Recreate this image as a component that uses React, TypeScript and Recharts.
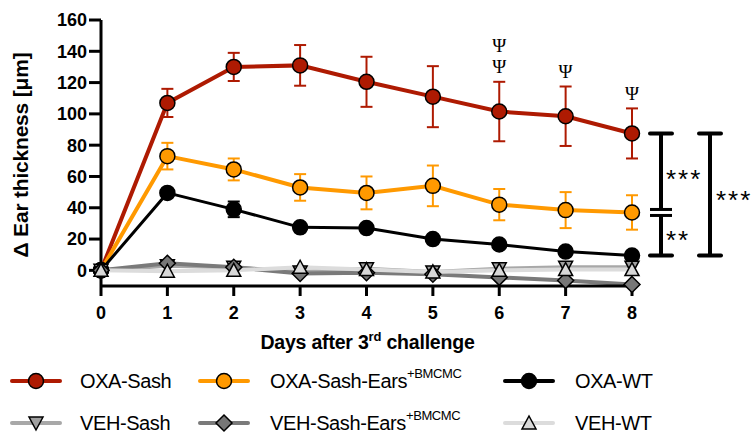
import React from "react";
import {
  LineChart,
  Line,
  XAxis,
  YAxis,
  ErrorBar,
  ReferenceDot,
  ReferenceLine
} from "recharts";

// days after 3rd challenge
const days = [0, 1, 2, 3, 4, 5, 6, 7, 8];

// mean ear thickness change (um) and SEM
const oxaSash = [0, 107, 130, 131, 120.5, 111, 101.5, 98.5, 87.5];
const oxaSashErr = [0, 9, 9, 13, 16, 19.5, 19, 19, 16];
const oxaEars = [0, 73, 64.5, 53, 49.5, 54, 42, 38.5, 37];
const oxaEarsErr = [0, 8.5, 7, 8.5, 10.5, 13, 10, 11.5, 11];
const oxaWT = [0, 49.5, 39, 27.5, 27, 20, 16.5, 12, 9.5];
const oxaWTErr = [0, 2, 5, 2, 2, 2, 2, 2, 2];
const vehSash = [0, 3, 2, -1, 1, -1, 1, 2, 2];
const vehEars = [0, 4.5, 2, -2, -1.5, -2.5, -4.5, -6.5, -9];
const vehWT = [0, -0.5, 0, 2, 0.5, -1, 0, 0.5, 0.5];

// number of Psi marks above the OXA-Sash error bar per day
const psiCount = [0, 0, 0, 0, 0, 0, 2, 1, 1];

const yTicks = [0, 20, 40, 60, 80, 100, 120, 140, 160];

const RED = "#AE1A02";
const ORANGE = "#FF9900";

const data = days.map((d, i) => ({
  day: d,
  oxaSash: oxaSash[i],
  oxaSashErr: oxaSashErr[i],
  oxaEars: oxaEars[i],
  oxaEarsErr: oxaEarsErr[i],
  oxaWT: oxaWT[i],
  oxaWTErr: oxaWTErr[i],
  vehSash: vehSash[i],
  vehEars: vehEars[i],
  vehWT: vehWT[i]
}));

type Shape = "circle" | "down" | "up" | "diamond";

const marker = (shape: Shape, fill: string, cx: number, cy: number, key?: string) => {
  if (shape === "circle") {
    return <circle key={key} cx={cx} cy={cy} r={7.5} fill={fill} stroke="#000" strokeWidth={1.5} />;
  }
  let pts = "";
  if (shape === "down") pts = `${cx - 7},${cy - 6} ${cx + 7},${cy - 6} ${cx},${cy + 7}`;
  if (shape === "up") pts = `${cx - 7},${cy + 6} ${cx + 7},${cy + 6} ${cx},${cy - 7}`;
  if (shape === "diamond") pts = `${cx},${cy - 8} ${cx + 8},${cy} ${cx},${cy + 8} ${cx - 8},${cy}`;
  return <polygon key={key} points={pts} fill={fill} stroke="#000" strokeWidth={1.5} />;
};

const dotFn = (shape: Shape, fill: string) => (p: any) =>
  marker(shape, fill, p.cx, p.cy, `d-${p.index}`);

const series = [
  { key: "oxaSash", name: "OXA-Sash", sup: "", line: RED, fill: RED, shape: "circle" as Shape },
  { key: "oxaEars", name: "OXA-Sash-Ears", sup: "+BMCMC", line: ORANGE, fill: ORANGE, shape: "circle" as Shape },
  { key: "oxaWT", name: "OXA-WT", sup: "", line: "#000", fill: "#000", shape: "circle" as Shape },
  { key: "vehSash", name: "VEH-Sash", sup: "", line: "#A8A8A8", fill: "#A0A0A0", shape: "down" as Shape },
  { key: "vehEars", name: "VEH-Sash-Ears", sup: "+BMCMC", line: "#7A7A7A", fill: "#777777", shape: "diamond" as Shape },
  { key: "vehWT", name: "VEH-WT", sup: "", line: "#DCDCDC", fill: "#D8D8D8", shape: "up" as Shape }
];

const legendCols = [12, 200, 505];
const legendRows = [381, 423];

const font = "'Liberation Sans', Arial, sans-serif";

// significance brackets drawn right of day 8
const Brackets = (p: any) => {
  const { x1, y1, y2 } = p;
  const top = Math.min(y1, y2);
  const bot = Math.max(y1, y2);
  const mid = top + ((oxaSash[8] - oxaEars[8]) / (oxaSash[8] - oxaWT[8])) * (bot - top);
  const xa = x1 + 29;
  const xb = x1 + 78;
  const s = { stroke: "#000", strokeWidth: 4 };
  const star = { fontFamily: font, fontSize: 26, letterSpacing: 2, fill: "#000" };
  return (
    <g>
      <line x1={xa} y1={top} x2={xa} y2={mid - 3} {...s} />
      <line x1={xa} y1={mid + 3} x2={xa} y2={bot} {...s} />
      <line x1={xa - 11} y1={top} x2={xa + 11} y2={top} {...s} strokeLinecap="round" />
      <line x1={xa - 11} y1={bot} x2={xa + 11} y2={bot} {...s} strokeLinecap="round" />
      <line x1={xa - 11} y1={mid - 3} x2={xa + 11} y2={mid - 3} stroke="#000" strokeWidth={3} />
      <line x1={xa - 11} y1={mid + 3} x2={xa + 11} y2={mid + 3} stroke="#000" strokeWidth={3} />
      <line x1={xb} y1={top} x2={xb} y2={bot} {...s} />
      <line x1={xb - 11} y1={top} x2={xb + 11} y2={top} {...s} strokeLinecap="round" />
      <line x1={xb - 11} y1={bot} x2={xb + 11} y2={bot} {...s} strokeLinecap="round" />
      <text x={xa + 5} y={(top + mid) / 2 + 15} {...star}>***</text>
      <text x={xa + 5} y={(mid + bot) / 2 + 15} {...star}>**</text>
      <text x={xb + 6} y={(top + bot) / 2 + 15} {...star}>***</text>
    </g>
  );
};

const Psi = (n: number) => (p: any) => (
  <g>
    {Array.from({ length: n }).map((_, k) => (
      <text
        key={k}
        x={p.cx}
        y={p.cy - 15 - k * 21}
        textAnchor="middle"
        dominantBaseline="central"
        fontFamily="'Liberation Serif', 'Times New Roman', serif"
        fontSize={19}
        fill="#000"
      >
        Ψ
      </text>
    ))}
  </g>
);

export default function App() {
  return (
    <div style={{ position: "absolute", left: 0, top: 0, width: 751, height: 435, background: "#fff" }}>
      <LineChart
        width={751}
        height={435}
        data={data}
        margin={{ top: 20, right: 119, left: 0, bottom: 89 }}
      >
        <XAxis
          dataKey="day"
          type="number"
          domain={[0, 8]}
          ticks={days}
          stroke="#000"
          strokeWidth={3}
          tickSize={10}
          tickMargin={10}
          height={60}
          tick={{ fill: "#000", fontSize: 18, fontWeight: "bold", fontFamily: font }}
          label={{
            content: (lp: any) => {
              const vb = lp.viewBox;
              return (
                <text
                  x={vb.x + vb.width / 2 + 1}
                  y={vb.y + 63}
                  textAnchor="middle"
                  fontFamily={font}
                  fontWeight="bold"
                  fontSize={19.5}
                  letterSpacing={-0.2}
                  fill="#000"
                >
                  Days after 3
                  <tspan fontSize={13} dy={-8}>rd</tspan>
                  <tspan dy={8}> challenge</tspan>
                </text>
              );
            }
          }}
        />
        <YAxis
          type="number"
          domain={[-10, 160]}
          ticks={yTicks}
          width={101}
          stroke="#000"
          strokeWidth={3}
          tickSize={12}
          tickMargin={2}
          tick={{ fill: "#000", fontSize: 18, fontWeight: "bold", fontFamily: font }}
          label={{
            content: () => (
              <text
                x={0}
                y={0}
                transform="translate(28,155) rotate(-90)"
                textAnchor="middle"
                fontFamily={font}
                fontWeight="bold"
                fontSize={21}
                letterSpacing={-0.2}
                fill="#000"
              >
                Δ Ear thickness [μm]
              </text>
            )
          }}
        />
        {series.map((s) => (
          <Line
            key={s.key}
            dataKey={s.key}
            type="linear"
            stroke={s.line}
            strokeWidth={s.key === "oxaWT" ? 3 : 4}
            dot={dotFn(s.shape, s.fill)}
            activeDot={false}
            isAnimationActive={false}
          >
            {s.key === "oxaSash" && (
              <ErrorBar dataKey="oxaSashErr" direction="y" width={6} stroke={RED} strokeWidth={2} />
            )}
            {s.key === "oxaEars" && (
              <ErrorBar dataKey="oxaEarsErr" direction="y" width={6} stroke={ORANGE} strokeWidth={2} />
            )}
            {s.key === "oxaWT" && (
              <ErrorBar dataKey="oxaWTErr" direction="y" width={6} stroke="#000" strokeWidth={2} />
            )}
          </Line>
        ))}
        {days.map((d, i) =>
          psiCount[i] > 0 ? (
            <ReferenceDot
              key={`psi-${d}`}
              x={d}
              y={oxaSash[i] + oxaSashErr[i]}
              r={0}
              ifOverflow="visible"
              shape={Psi(psiCount[i])}
            />
          ) : null
        )}
        <ReferenceLine
          segment={[
            { x: 8, y: oxaSash[8] },
            { x: 8, y: oxaWT[8] }
          ]}
          ifOverflow="visible"
          shape={Brackets}
        />
      </LineChart>
      <svg
        width={751}
        height={435}
        style={{ position: "absolute", left: 0, top: 0, pointerEvents: "none" }}
      >
        {series.map((s, i) => {
          const col = legendCols[i % 3];
          const row = legendRows[Math.floor(i / 3)];
          const tx = col + 68 + (i % 3 === 0 ? 0 : 2);
          return (
            <g key={s.key}>
              <line x1={col} y1={row} x2={col + 48} y2={row} stroke={s.line} strokeWidth={4} strokeLinecap="round" />
              {marker(s.shape, s.fill, col + 24, row)}
              <text
                x={tx}
                y={row + 7}
                fontFamily={font}
                fontSize={20}
                letterSpacing={-0.4}
                fill="#000"
              >
                {s.name}
                {s.sup && (
                  <tspan fontSize={13} dy={-10}>
                    {s.sup}
                  </tspan>
                )}
              </text>
            </g>
          );
        })}
      </svg>
    </div>
  );
}
